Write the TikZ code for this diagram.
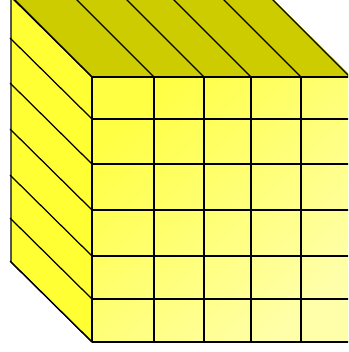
\documentclass[tikz,border=0pt]{standalone}
\definecolor{topface}{HTML}{CCCC00}
\definecolor{leftface}{HTML}{FFFF33}
\definecolor{frontA}{HTML}{FFFF44}
\definecolor{frontB}{HTML}{FFFFAA}
\tikzset{edge/.style={line width=1.25pt, black, line join=miter}}
\begin{document}
\begin{tikzpicture}[x=1pt,y=-1pt]
\useasboundingbox (0,0) rectangle (348,352);
\clip (0,0) rectangle (348,352);
% depth offset (-81,-80)
% top face
\fill[topface] (92,77) -- (352,77) -- (271,-3) -- (11,-3) -- cycle;
% left face
\fill[leftface] (92,77) -- (92,342) -- (11,262) -- (11,-3) -- cycle;
% front face
\shade[top color=frontA, bottom color=frontB, shading angle=45] (92,77) rectangle (352,342);
% front grid
\foreach \y in {77,119,164,210,256,299,342} {
  \draw[edge] (92,\y) -- (352,\y);
  \draw[edge] (92,\y) -- ++(-82,-81);
}
\foreach \x in {92,154,204,251,301} {
  \draw[edge] (\x,77) -- (\x,342);
  \draw[edge] (\x,77) -- ++(-81,-81);
}
% right top edge
\draw[edge] (350,77) -- ++(-81,-81);
% outer left edge and bottom
\draw[edge] (11,-3) -- (11,262) -- (92,342);
\end{tikzpicture}
\end{document}
